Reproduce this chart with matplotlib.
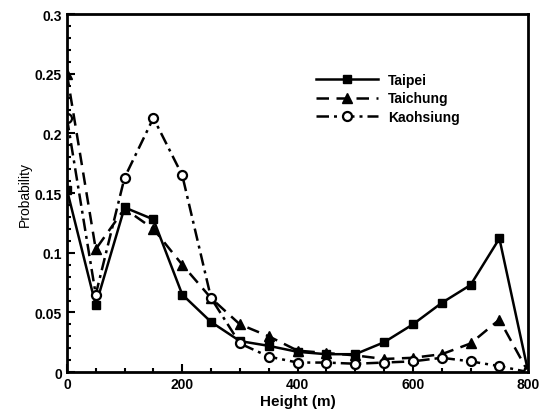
import numpy as np
import matplotlib.pyplot as plt
from matplotlib.ticker import MultipleLocator

plt.rcParams['font.family'] = ['Liberation Sans', 'DejaVu Sans']

height = [0, 50, 100, 150, 200, 250, 300, 350, 400, 450, 500, 550, 600, 650, 700, 750, 800]
taipei = [0.153, 0.056, 0.138, 0.128, 0.065, 0.042, 0.026, 0.022, 0.017, 0.015, 0.015,
          0.025, 0.040, 0.058, 0.073, 0.112, 0.0]
taichung = [0.250, 0.103, 0.137, 0.120, 0.090, 0.062, 0.040, 0.030, 0.018, 0.016, 0.014,
            0.011, 0.012, 0.015, 0.024, 0.044, 0.0]
kaohsiung = [0.213, 0.065, 0.163, 0.213, 0.165, 0.062, 0.024, 0.013, 0.008, 0.008, 0.007,
             0.008, 0.009, 0.012, 0.009, 0.005, 0.0]

fig = plt.figure(figsize=(5.44, 4.10), dpi=100)
ax = fig.add_axes([0.123, 0.090, 0.848, 0.873])

ax.plot(height, taipei, color='black', lw=1.8, ls='-', marker='s', ms=6,
        label='Taipei')
ax.plot(height, taichung, color='black', lw=1.8, ls=(0, (5, 3)), marker='^', ms=6.5,
        label='Taichung')
ax.plot(height, kaohsiung, color='black', lw=1.8, ls=(0, (5, 2, 1.2, 2)), marker='o', ms=6.5,
        mfc='white', mew=1.6, label='Kaohsiung')

ax.set_xlim(0, 800)
ax.set_ylim(0, 0.3)
ax.xaxis.set_major_locator(MultipleLocator(200))
ax.xaxis.set_minor_locator(MultipleLocator(50))
ax.yaxis.set_minor_locator(MultipleLocator(0.01))
ax.set_yticks([0, 0.05, 0.1, 0.15, 0.2, 0.25, 0.3])
ax.set_yticklabels(['0', '0.05', '0.1', '0.15', '0.2', '0.25', '0.3'])
ax.tick_params(which='both', direction='in', top=False, right=False, width=1.5)
ax.tick_params(which='major', length=6, labelsize=10)
ax.tick_params(which='minor', length=3)
for lab in ax.get_xticklabels() + ax.get_yticklabels():
    lab.set_fontweight('bold')
for s in ax.spines.values():
    s.set_linewidth(2)

ax.set_xlabel('Height (m)', fontsize=11, fontweight='bold', labelpad=2)
ax.set_ylabel('Probability', fontsize=10, labelpad=2)

ax.legend(loc='upper left', bbox_to_anchor=(0.512, 0.87), frameon=False,
          handlelength=4.5, labelspacing=0.3, handletextpad=0.7,
          prop={'weight': 'bold', 'size': 10})

fig.savefig('out.png', dpi=100)
